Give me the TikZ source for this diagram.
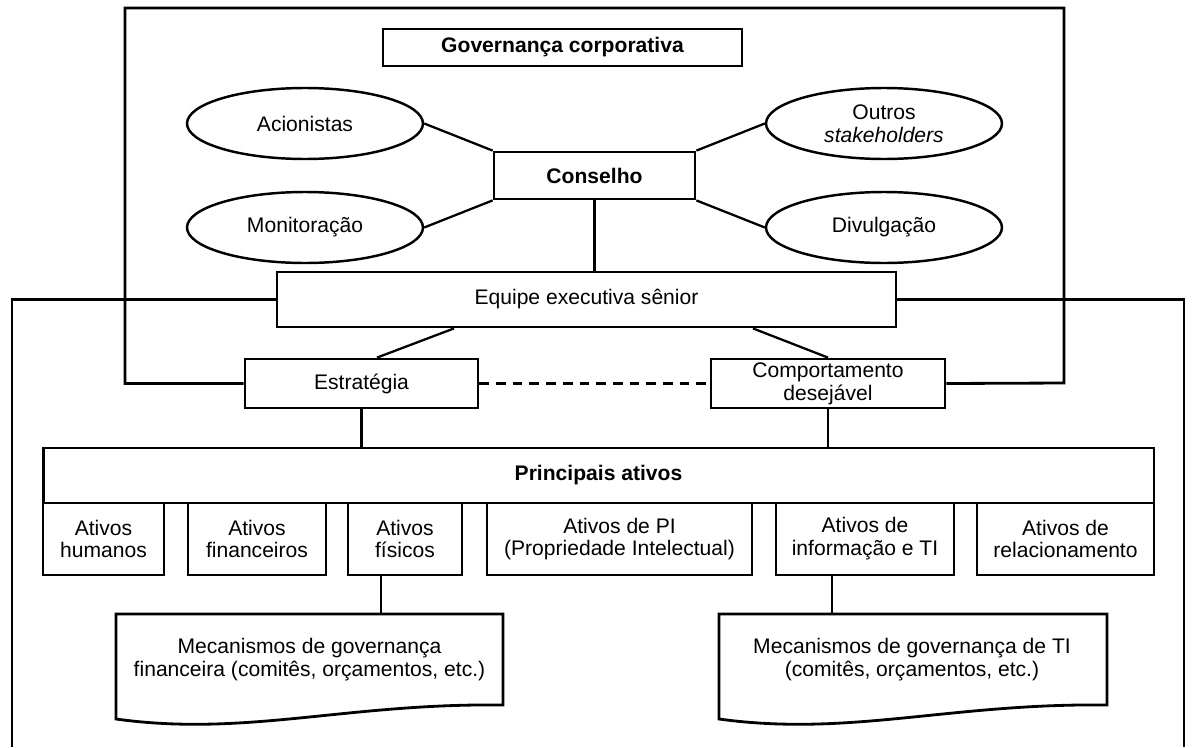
\documentclass[tikz,border=0pt]{standalone}
\usepackage{fontspec}
\setmainfont{Liberation Sans}
\usetikzlibrary{shapes.geometric}

\begin{document}
\begin{tikzpicture}[x=0.02cm, y=-0.02cm,
	  box/.style={draw, line width=1.6pt, fill=white, align=center, inner sep=1pt, font=\fontsize{12}{13}\selectfont},
	  oval/.style={draw, ellipse, line width=1.4pt, fill=white, align=center, inner sep=0pt, minimum width=4.72cm, minimum height=1.42cm, font=\fontsize{12}{13}\selectfont},
	  doctext/.style={align=center, inner sep=0pt, font=\fontsize{12}{13}\selectfont},
	  link/.style={line width=1.3pt},
	  frame/.style={line width=1.6pt}]
	  \useasboundingbox (0,0) rectangle (1192,747);

	  \node [box, minimum width=7.18cm, minimum height=0.74cm] (gov) at (562.5,47.5) {\bfseries Governança corporativa};
	  \node [oval] (acio) at (305,123.5) {Acionistas};
	  \node [oval] (outros) at (884,123.5) {Outros\\\itshape stakeholders};
	  \node [oval] (moni) at (305,227.5) {Monitoração};
	  \node [oval] (divu) at (884,227.5) {Divulgação};
	  \node [box, minimum width=4.02cm, minimum height=0.94cm] (cons) at (594.5,175.5) {\bfseries Conselho};

	  \node [box, minimum width=12.38cm, minimum height=1.1cm] (equipe) at (586.5,299.5) {Equipe executiva sênior};
	  \node [box, minimum width=4.66cm, minimum height=0.98cm] (estr) at (361.5,383.5) {Estratégia};
	  \node [box, minimum width=4.68cm, minimum height=0.98cm] (comp) at (828,383.5) {Comportamento\\desejável};

	  \node [box, minimum width=22.22cm, minimum height=1.1cm] (princ) at (598.5,475.5) {\bfseries Principais ativos};
	  \node [box, minimum width=2.42cm, minimum height=1.44cm] (hum) at (103.5,539) {Ativos\\humanos};
	  \node [box, minimum width=2.76cm, minimum height=1.44cm] (fin) at (257,539) {Ativos\\financeiros};
	  \node [box, minimum width=2.28cm, minimum height=1.44cm] (fis) at (405,539) {Ativos\\físicos};
	  \node [box, minimum width=5.3cm, minimum height=1.44cm] (pi) at (619.5,539) {Ativos de PI\\(Propriedade Intelectual)};
	  \node [box, minimum width=3.56cm, minimum height=1.44cm] (inf) at (865,539) {Ativos de\\informação e TI};
	  \node [box, minimum width=3.54cm, minimum height=1.44cm] (rel) at (1065.5,539) {Ativos de\\relacionamento};

	  \draw [line width=1.6pt] (116,614)--(503,614)--(503,705) .. controls (346,703) and (246,737) .. (116,719)--cycle;
	  \draw [line width=1.6pt] (719,614)--(1107,614)--(1107,705) .. controls (950,703) and (850,737) .. (719,719)--cycle;
	  \node [doctext] (mfin) at (309.5,660) {Mecanismos de governança\\financeira (comitês, orçamentos, etc.)};
	  \node [doctext] (mti) at (912,660) {Mecanismos de governança de TI\\(comitês, orçamentos, etc.)};
	  \coordinate (mfintop) at (381,614);
	  \coordinate (mtitop) at (832,614);

	  \draw [frame] (estr.west) -| (125,8) -| (1064,383) -- (comp.east);
	  \draw [frame] (equipe.west) -| (12,747);
	  \draw [frame] (equipe.east) -| (1184,747);

	  \draw [link] (acio.east) -- (cons.north west);
	  \draw [link] (moni.east) -- (cons.south west);
	  \draw [link] (outros.west) -- (cons.north east);
	  \draw [link] (divu.west) -- (cons.south east);
	  \draw [link] (cons.south) -- (cons.south |- equipe.north);

	  \draw [link] ([xshift=-2.65cm]equipe.south) -- ([xshift=0.31cm]estr.north);
	  \draw [link] ([xshift=3.33cm]equipe.south) -- (comp.north);
	  \draw [link, line width=1.5pt, dash pattern=on 5.5pt off 4pt] (estr.east) -- (comp.west);

	  \draw [link] (estr.south) -- (estr.south |- princ.north);
	  \draw [link] (comp.south) -- (comp.south |- princ.north);
	  \draw [link] (fis.south -| mfintop) -- (mfintop);
	  \draw [link] (inf.south -| mtitop) -- (mtitop);

	\end{tikzpicture}
\end{document}
